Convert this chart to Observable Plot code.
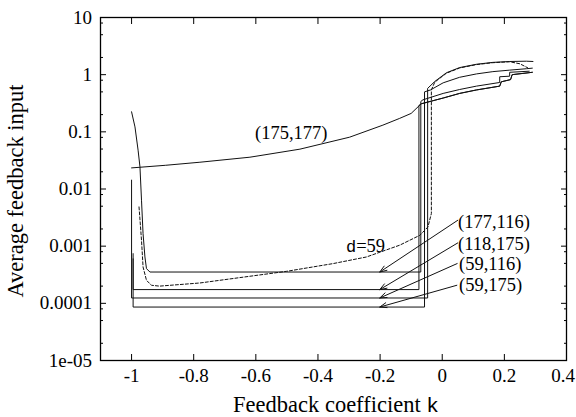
<!DOCTYPE html>
<html><head><meta charset="utf-8">
<script src="https://cdn.jsdelivr.net/npm/d3@7"></script>
<script src="https://cdn.jsdelivr.net/npm/@observablehq/plot@0.6"></script>
<style>
html,body{margin:0;padding:0;background:#fff;}
svg text{font-family:"Liberation Serif", serif;}
svg text tspan.mono{font-family:"Liberation Mono", monospace;}
</style></head><body><div id="chart"></div>
<script>
// ---- tick values and labels ----
const xTicks = [-1, -0.8, -0.6, -0.4, -0.2, 0, 0.2, 0.4];
const xTickLabels = ["-1", "-0.8", "-0.6", "-0.4", "-0.2", "0", "0.2", "0.4"];
const yTicks = [10, 1, 0.1, 0.01, 0.001, 0.0001, 0.00001];
const yTickLabels = ["10", "1", "0.1", "0.01", "0.001", "0.0001", "1e-05"];
const yMinorTicks = [8, 5, 2, 0.8, 0.5, 0.2, 0.08, 0.05, 0.02, 0.008, 0.005, 0.002,
  0.0008, 0.0005, 0.0002, 0.00008, 0.00005, 0.00002];

// ---- series (k = feedback coefficient, v = average feedback input) ----
const k175_177 = [-1.0, -0.89, -0.78, -0.619, -0.458, -0.298, -0.191, -0.137, -0.1, -0.072, -0.067, -0.03, 0.003, 0.056, 0.11, 0.185, 0.19, 0.22, 0.225, 0.29];
const v175_177 = [0.0234, 0.026, 0.0294, 0.036, 0.0498, 0.0807, 0.131, 0.172, 0.21, 0.294, 0.31, 0.35, 0.39, 0.47, 0.54, 0.63, 0.75, 0.82, 1.0, 1.1];

const k177_116 = [-1.0, -0.989, -0.979, -0.973, -0.968, -0.963, -0.957, -0.952, -0.941, -0.069, -0.069, -0.064, 0.003, 0.056, 0.11, 0.185, 0.185, 0.217, 0.217, 0.28];
const v177_116 = [0.224, 0.122, 0.0478, 0.0244, 0.00637, 0.00166, 0.000647, 0.000405, 0.000353, 0.000353, 0.335, 0.36, 0.47, 0.55, 0.63, 0.73, 0.92, 0.94, 1.1, 1.15];

const k118_175 = [-0.995, -0.995, -0.075, -0.075, -0.067, 0.003, 0.056, 0.11, 0.185, 0.19, 0.22, 0.225, 0.29];
const v118_175 = [0.0006, 0.000174, 0.000174, 0.29, 0.31, 0.39, 0.47, 0.54, 0.63, 0.75, 0.82, 1.0, 1.1];

const k59_116 = [-1.0, -1.0, -0.047, -0.047, -0.024, 0.0135, 0.056, 0.11, 0.163, 0.217, 0.271, 0.292];
const v59_116 = [0.0143, 0.000124, 0.000124, 0.575, 0.76, 1.08, 1.33, 1.52, 1.64, 1.7, 1.72, 1.7];

const k59_175 = [-0.995, -0.995, -0.057, -0.057, -0.038, 0.003, 0.056, 0.11, 0.163, 0.217, 0.271, 0.29];
const v59_175 = [0.00074, 0.0000861, 0.0000861, 0.5, 0.54, 0.72, 0.9, 1.03, 1.13, 1.2, 1.27, 1.3];

const kD59 = [-0.976, -0.968, -0.963, -0.952, -0.936, -0.91, -0.78, -0.501, -0.351, -0.244, -0.137, -0.072, -0.046, -0.035, -0.035, -0.024, 0.0135, 0.056, 0.11, 0.163, 0.217, 0.25, 0.275];
const vD59 = [0.00486, 0.00127, 0.000432, 0.000253, 0.000207, 0.0002, 0.000227, 0.000363, 0.000496, 0.000647, 0.00104, 0.00155, 0.00217, 0.00372, 0.54, 0.74, 1.06, 1.31, 1.5, 1.62, 1.68, 1.55, 1.32];

// ---- annotations ----
const curveLabels = ["(175,177)"];
const curveLabelK = [-0.486];
const curveLabelV = [0.094];

const arrowNames = ["(177,116)", "(118,175)", "(59,116)", "(59,175)"];
const arrowFromK = [0.05, 0.05, 0.048, 0.047];
const arrowFromV = [0.00284, 0.00114, 0.000496, 0.000207];
const arrowToK = [-0.201, -0.201, -0.201, -0.201];
const arrowToV = [0.000353, 0.000174, 0.000124, 0.0000861];
const arrowLabelK = [0.051, 0.051, 0.054, 0.054];
const arrowLabelV = [0.00265, 0.00107, 0.000482, 0.000207];

const dLabel = "d=59";
const dLabelK = -0.31;
const dLabelV = 0.001;

// ---- build tables ----
function toRows(name, ks, vs) { return ks.map((k, i) => ({series: name, k, v: vs[i]})); }
const solid = [
  ...toRows("(175,177)", k175_177, v175_177),
  ...toRows("(177,116)", k177_116, v177_116),
  ...toRows("(118,175)", k118_175, v118_175),
  ...toRows("(59,116)", k59_116, v59_116),
  ...toRows("(59,175)", k59_175, v59_175)
];
const dashed = toRows("d=59", kD59, vD59);
const arrows = arrowNames.map((n, i) => ({n, x1: arrowFromK[i], y1: arrowFromV[i], x2: arrowToK[i], y2: arrowToV[i], lk: arrowLabelK[i], lv: arrowLabelV[i]}));
const cLabels = curveLabels.map((t, i) => ({t, k: curveLabelK[i], v: curveLabelV[i]}));
const xLabelRows = xTicks.map((k, i) => ({k, t: xTickLabels[i]}));
const xLabelsInner = xLabelRows.slice(0, -1);
const xLabelsLast = xLabelRows.slice(-1);

const font = "Liberation Serif";
const blank = () => "";

const plot = Plot.plot({
  width: 576, height: 417,
  marginLeft: 100, marginRight: 10, marginTop: 17, marginBottom: 57,
  style: {fontSize: "19px", background: "#fff", color: "#000", overflow: "visible"},
  x: {domain: [-1.1, 0.4]},
  y: {type: "log", domain: [0.00001, 10]},
  marks: [
    Plot.axisX({ticks: xTicks, anchor: "bottom", tickSize: -6, tickFormat: blank, label: null}),
    Plot.axisX({ticks: xTicks, anchor: "top", tickSize: -6, tickFormat: blank, label: null}),
    Plot.axisY({ticks: yTicks, anchor: "left", tickSize: -6, tickFormat: blank, label: null}),
    Plot.axisY({ticks: yTicks, anchor: "right", tickSize: -6, tickFormat: blank, label: null}),
    Plot.axisY({ticks: yMinorTicks, anchor: "left", tickSize: -3, tickFormat: blank, label: null}),
    Plot.axisY({ticks: yMinorTicks, anchor: "right", tickSize: -3, tickFormat: blank, label: null}),
    // x tick labels (last one nudged inside the picture, as in the original)
    Plot.text(xLabelsInner, {x: "k", frameAnchor: "bottom", text: "t", lineAnchor: "top", dy: 8, fontSize: 19}),
    Plot.text(xLabelsLast, {x: "k", frameAnchor: "bottom", text: "t", lineAnchor: "top", dy: 8, dx: -3.5, fontSize: 19}),
    Plot.axisY({ticks: yTicks, anchor: "left", tickSize: 0, tickPadding: 8.5, tickFormat: (d) => yTickLabels[yTicks.indexOf(d)], label: null, fontSize: 19}),
    Plot.line(solid, {x: "k", y: "v", z: "series", stroke: "#111", strokeWidth: 1, curve: "linear"}),
    Plot.line(dashed, {x: "k", y: "v", stroke: "#111", strokeWidth: 1, strokeDasharray: "3,2"}),
    Plot.arrow(arrows, {x1: "x1", y1: "y1", x2: "x2", y2: "y2", stroke: "#111", strokeWidth: 1, headLength: 11, headAngle: 40}),
    Plot.text(arrows, {x: "lk", y: "lv", text: "n", textAnchor: "start", fontSize: 18.5}),
    Plot.text(cLabels, {x: "k", y: "v", text: "t", fontSize: 18.5}),
    Plot.text([dLabel], {x: () => dLabelK, y: () => dLabelV, text: (d) => d, textAnchor: "start", fontSize: 18.5}),
    Plot.frame({stroke: "#000", strokeWidth: 1.3})
  ]
});

const svg = d3.select(plot);
svg.attr("font-family", font);
svg.selectAll("text").filter(function () { return this.textContent === dLabel; }).each(function () {
  const t = d3.select(this);
  t.text(null);
  t.append("tspan").attr("class", "mono").attr("font-size", 17).text("d");
  t.append("tspan").text("=59");
});
svg.append("text")
  .attr("x", 336).attr("y", 411.5)
  .attr("text-anchor", "middle")
  .attr("font-size", 22.5).attr("fill", "#000")
  .call(t => { t.append("tspan").text("Feedback coefficient "); t.append("tspan").attr("class", "mono").attr("font-size", 21).text("k"); });
svg.append("text")
  .attr("transform", "translate(23,191) rotate(-90)")
  .attr("text-anchor", "middle")
  .attr("font-size", 22.5).attr("fill", "#000")
  .text("Average feedback input");

document.getElementById("chart").appendChild(plot);
</script>
</body></html>
